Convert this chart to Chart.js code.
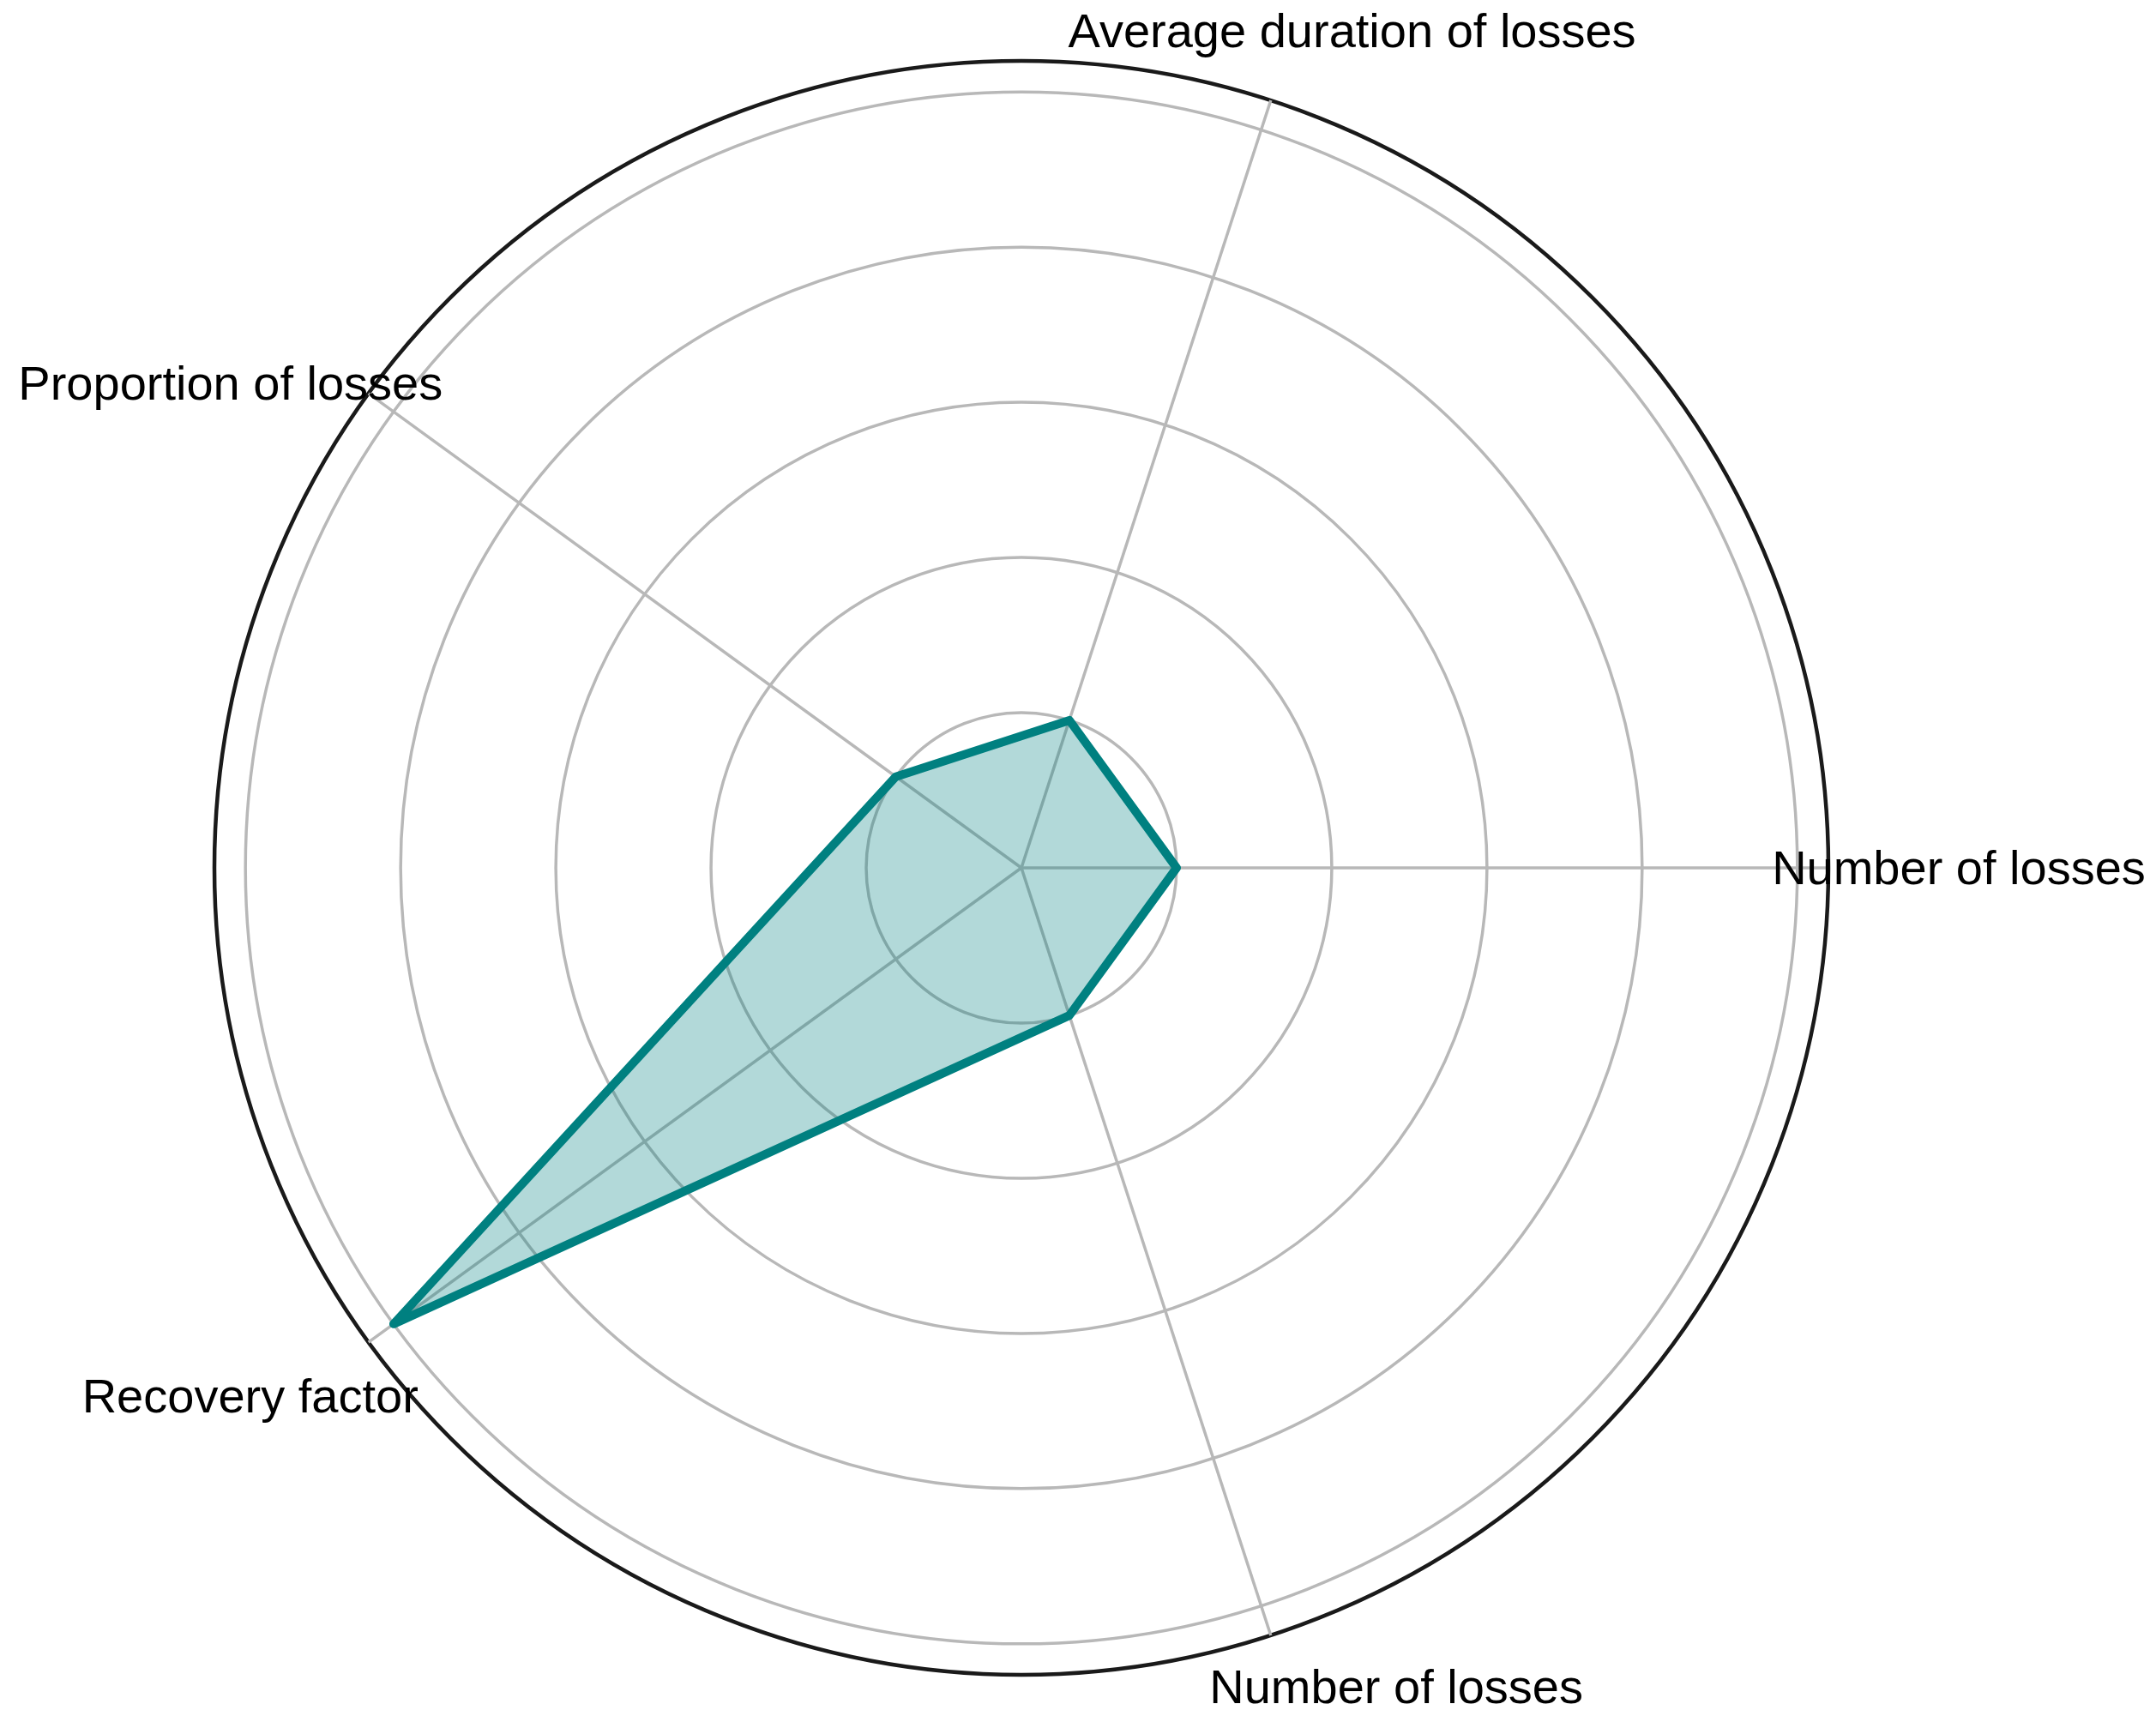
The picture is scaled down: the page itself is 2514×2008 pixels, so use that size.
<!DOCTYPE html>
<html>
<head>
<meta charset="utf-8">
<script src="https://cdn.jsdelivr.net/npm/chart.js@4.4.1/dist/chart.umd.min.js"></script>
<style>
  body { margin: 0; background: #fff; }
  canvas { display: block; }
</style>
</head>
<body>
<canvas id="grafico-radar" width="2514" height="2008"></canvas>
<script>
// axes in drawing order (clockwise from the right side)
var axisLabels = ['Number of losses', 'Number of losses', 'Recovery factor', 'Proportion of losses', 'Average duration of losses'];
var lossValues = [0.2, 0.2, 1.0, 0.2, 0.2];
var gridValues = [0, 0.2, 0.4, 0.6, 0.8, 1.0, 1.04];

var teal = '#008080';

// where each axis label sits, relative to centre and outer radius
var labelPlaces = [
  [0.930, 0.020],
  [0.233, 1.035],
  [-1.164, 0.675],
  [-1.243, -0.580],
  [0.058, -1.017]
];

var etichette = {
  id: 'etichette',
  afterDraw: function (chart) {
    var s = chart.scales.r;
    var ctx = chart.ctx;
    ctx.save();
    ctx.fillStyle = '#000';
    ctx.font = '56px "Liberation Sans", Arial, sans-serif';
    ctx.textAlign = 'left';
    ctx.textBaseline = 'alphabetic';
    for (var i = 0; i < chart.data.labels.length; i++) {
      var p = labelPlaces[i];
      ctx.fillText(chart.data.labels[i], s.xCenter + p[0] * s.drawingArea, s.yCenter + p[1] * s.drawingArea);
    }
    ctx.restore();
  }
};

var myChart = new Chart(document.getElementById('grafico-radar'), {
  type: 'radar',
  data: {
    labels: axisLabels,
    datasets: [{
      data: lossValues,
      borderColor: teal,
      backgroundColor: 'rgba(0, 128, 128, 0.3)',
      borderWidth: 10,
      borderJoinStyle: 'round',
      fill: true,
      pointRadius: 0,
      pointHoverRadius: 0,
      // the line is left open between the two "Number of losses" axes
      segment: {
        borderColor: function (c) {
          return (c.p0DataIndex === 0 && c.p1DataIndex === 1) ? 'rgba(0,0,0,0)' : teal;
        }
      }
    }]
  },
  options: {
    responsive: false,
    devicePixelRatio: 1,
    animation: false,
    layout: { padding: { left: 250, top: 71, right: 382, bottom: 55 } },
    plugins: {
      legend: { display: false },
      tooltip: { enabled: false }
    },
    scales: {
      r: {
        min: 0,
        max: 1.04,
        startAngle: 90,
        afterBuildTicks: function (s) {
          s.ticks = gridValues.map(function (v) { return { value: v }; });
        },
        ticks: { display: false },
        pointLabels: { display: false },
        angleLines: { color: '#b8b8b8', lineWidth: 3.5 },
        grid: {
          circular: true,
          color: function (c) { return c.tick && c.tick.value > 1.01 ? '#1a1a1a' : '#b8b8b8'; },
          lineWidth: function (c) { return c.tick && c.tick.value > 1.01 ? 4.5 : 3.5; }
        }
      }
    }
  },
  plugins: [etichette]
});
</script>
</body>
</html>
